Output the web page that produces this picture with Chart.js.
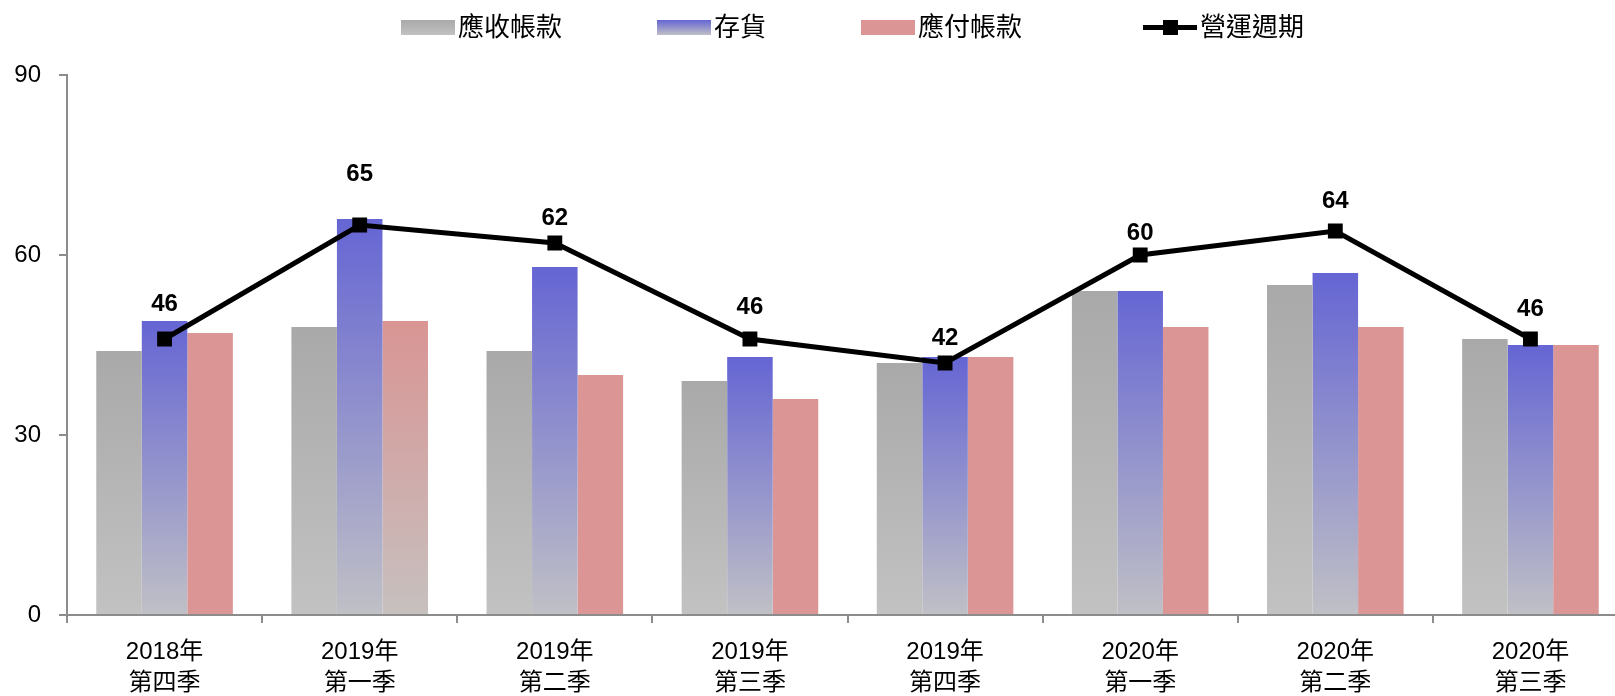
<!DOCTYPE html>
<html lang="zh-Hant">
<head>
<meta charset="utf-8">
<title>營運週期</title>
<script src="https://cdn.jsdelivr.net/npm/chart.js@4.4.1/dist/chart.umd.min.js"></script>
<style>
    html, body { margin: 0; padding: 0; background: #fff; overflow: hidden; }
    #wrap { position: relative; width: 1615px; height: 696px; overflow: hidden; }
    #cycle-chart { position: absolute; left: 0; top: 0; }
    #legend {
        position: absolute; left: 401px; top: 12px;
        display: flex; align-items: center;
        font-family: "Liberation Sans", Arial, "Noto Sans CJK TC", sans-serif;
        font-size: 26px; color: #000; line-height: 30px;
    }
    .item { display: flex; align-items: center; gap: 3px; white-space: nowrap; }
    .item + .item { margin-left: 95px; }
    .item.line-item { margin-left: 121px; }
    .swatch { width: 54px; height: 15px; position: relative; }
    .swatch.line::before { content: ''; position: absolute; left: 0; right: 0; top: 5px; height: 5px; background: #000; }
    .swatch.line::after { content: ''; position: absolute; left: 20px; top: 0; width: 15px; height: 15px; background: #000; }
</style>
</head>
<body>
<div id="wrap">
    <canvas id="cycle-chart" width="1630" height="696"></canvas>
    <div id="legend"></div>
</div>
<script>
const quarters = [
    ['2018年', '第四季'], ['2019年', '第一季'], ['2019年', '第二季'], ['2019年', '第三季'],
    ['2019年', '第四季'], ['2020年', '第一季'], ['2020年', '第二季'], ['2020年', '第三季']
];
const receivableDays = [44, 48, 44, 39, 42, 54, 55, 46];
const inventoryDays = [49, 66, 58, 43, 43, 54, 57, 45];
const payableDays = [47, 49, 40, 36, 43, 48, 48, 45];
const cycleDays = [46, 65, 62, 46, 42, 60, 64, 46];
const yTicks = [0, 30, 60, 90];

const fontFamily = '"Liberation Sans", Arial, "Noto Sans CJK TC", sans-serif';

// gradient from the top of each bar down to the axis
const barGradient = (top, bottom) => (ctx) => {
    const chart = ctx.chart;
    const area = chart.chartArea;
    if (!area || ctx.type !== 'data') return top;
    const yTop = chart.scales.y.getPixelForValue(ctx.raw);
    const g = chart.ctx.createLinearGradient(0, yTop, 0, area.bottom);
    g.addColorStop(0, top);
    g.addColorStop(1, bottom);
    return g;
};
const greyFill = barGradient('#a9a9a9', '#c2c2c2');
const blueFill = barGradient('#6565d4', '#c0c0c6');
const pinkFade = barGradient('#d99594', '#c6c0bf');

const pointLabels = {
    id: 'pointLabels',
    afterDatasetsDraw(chart, args, opts) {
        const meta = chart.getDatasetMeta(3);
        const c = chart.ctx;
        c.save();
        c.font = 'bold 24px ' + fontFamily;
        c.fillStyle = '#000';
        c.textAlign = 'center';
        c.textBaseline = 'middle';
        meta.data.forEach((pt, i) => {
            c.fillText(String(cycleDays[i]), pt.x, pt.y - opts.lift[i]);
        });
        c.restore();
    }
};

const chart = new Chart(document.getElementById('cycle-chart'), {
    type: 'bar',
    data: {
        labels: quarters,
        datasets: [
            { label: '應收帳款', data: receivableDays, backgroundColor: greyFill, order: 1 },
            { label: '存貨', data: inventoryDays, backgroundColor: blueFill, order: 1 },
            { label: '應付帳款', data: payableDays, order: 1,
              backgroundColor: (ctx) => ctx.dataIndex === 1 ? pinkFade(ctx) : '#da9594' },
            {
                type: 'line', label: '營運週期', data: cycleDays, order: 0,
                borderColor: '#000', borderWidth: 5, tension: 0,
                pointStyle: 'rect', pointRadius: 10.5, pointBorderWidth: 0,
                pointBackgroundColor: '#000'
            }
        ]
    },
    options: {
        responsive: false,
        animation: false,
        events: [],
        layout: { autoPadding: false, padding: { top: 75, right: 2, left: 0, bottom: 0 } },
        datasets: { bar: { barPercentage: 1, categoryPercentage: 0.7 } },
        scales: {
            x: {
                afterFit: (scale) => { scale.height = 81; },
                grid: { display: true, drawOnChartArea: false, offset: true, tickLength: 8, color: '#8c8c8c', lineWidth: 2 },
                border: { color: '#8c8c8c', width: 2 },
                ticks: { color: '#000', padding: 14, font: { family: fontFamily, size: 24, lineHeight: 1.28 }, maxRotation: 0, autoSkip: false }
            },
            y: {
                min: 0, max: 90,
                afterFit: (scale) => { scale.width = 67; },
                afterBuildTicks: (scale) => { scale.ticks = yTicks.map(v => ({ value: v })); },
                grid: { display: true, drawOnChartArea: false, tickLength: 8, color: '#8c8c8c', lineWidth: 2 },
                border: { color: '#8c8c8c', width: 2 },
                ticks: { color: '#000', padding: 18, font: { family: fontFamily, size: 24 } }
            }
        },
        plugins: {
            legend: { display: false },
            tooltip: { enabled: false },
            pointLabels: { lift: [35, 51, 25, 32, 25, 22, 30, 30] }
        }
    },
    plugins: [pointLabels]
});

// html legend, built from the chart's datasets
const swatchStyles = [
    'background: linear-gradient(#a9a9a9, #c2c2c2);',
    'background: linear-gradient(#6565d4, #c0c0c6);',
    'background: #da9594;',
    ''
];
const legendEl = document.getElementById('legend');
chart.data.datasets.forEach((ds, idx) => {
    const item = document.createElement('div');
    const isLine = ds.type === 'line';
    item.className = 'item' + (isLine ? ' line-item' : '');
    item.innerHTML = `
        <span class="swatch${isLine ? ' line' : ''}" style="${swatchStyles[idx]}"></span>
        <span>${ds.label}</span>
    `;
    legendEl.appendChild(item);
});
</script>
</body>
</html>
